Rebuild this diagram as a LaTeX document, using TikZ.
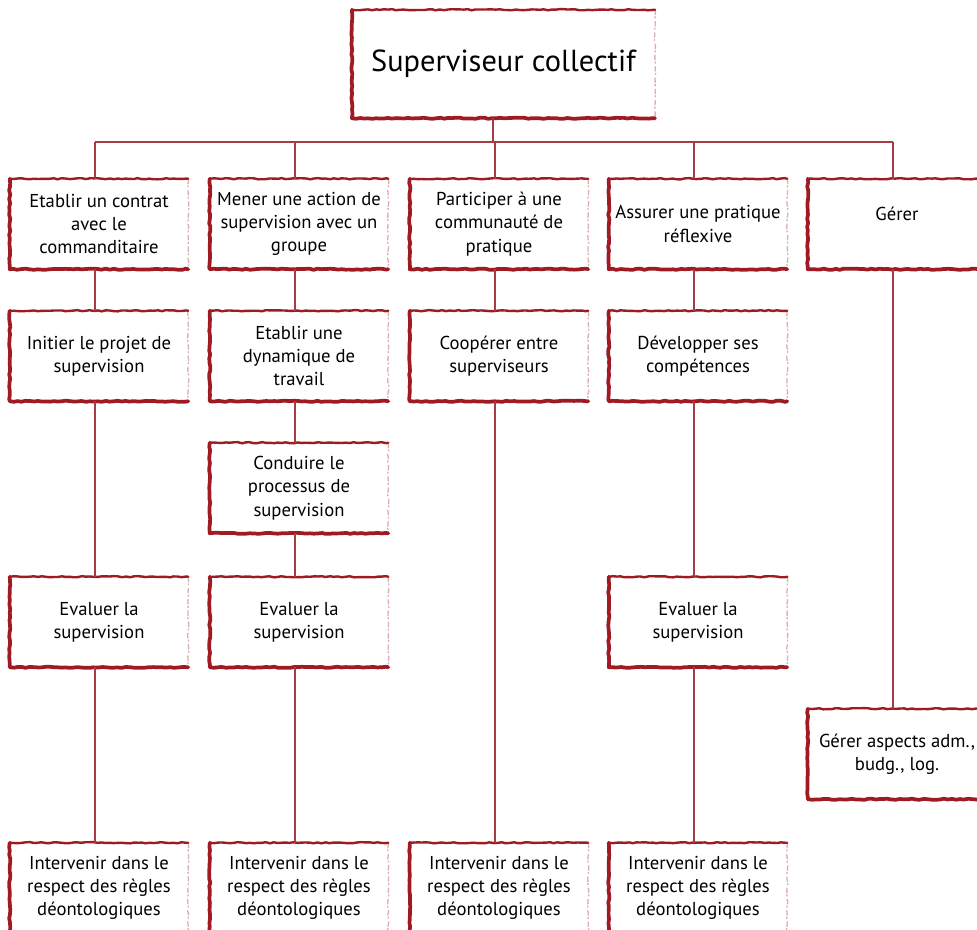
\documentclass[tikz,border=0pt]{standalone}
\usepackage{fontspec}
\setmainfont{PT Sans}
\usetikzlibrary{decorations.pathmorphing}
\definecolor{cadre}{HTML}{9E1B24}
\definecolor{trait}{HTML}{A83A42}

\begin{document}
\begin{tikzpicture}[x=0.75pt, y=-0.75pt,
  tache/.style = {minimum width=133.5pt, minimum height=67.5pt, inner sep=0pt, align=center, font=\fontsize{14}{17.5}\selectfont},
  titrebox/.style = {minimum width=227pt, minimum height=81pt, inner sep=0pt, font=\fontsize{22.8}{28}\selectfont},
  rough/.style = {decorate, decoration={random steps, segment length=3pt, amplitude=0.45pt}},
  cadre fin/.style = {draw=cadre, rough, line width=1.8pt, line cap=round},
  cadre epais/.style = {draw=cadre, rough, line width=2.8pt, line cap=round, line join=round},
  cadre pale/.style = {draw=cadre!35, rough, line width=1pt, dash pattern=on 4pt off 1pt on 1.5pt off 2pt},
  lien/.style = {draw=trait, line width=0.8pt, transform canvas={xshift=-3pt}}]
  \useasboundingbox (0,0) rectangle (977,930);

  % sommet
  \node[titrebox] (titre) at (503.5,64) {Superviseur collectif};
  \coordinate (bus) at (497,142);

  % ligne 1
  \node[tache] (a1) at (99,224) {Etablir un contrat\\avec le\\commanditaire};
  \node[tache] (b1) at (299,224) {Mener une action de\\supervision avec un\\groupe};
  \node[tache] (c1) at (499,224) {Participer à une\\communauté de\\pratique};
  \node[tache] (d1) at (698,224) {Assurer une pratique\\réflexive};
  \node[tache, text depth=15pt] (e1) at (897,224) {Gérer};

  % ligne 2
  \node[tache] (a2) at (99,356) {Initier le projet de\\supervision};
  \node[tache] (b2) at (299,356) {Etablir une\\dynamique de\\travail};
  \node[tache] (c2) at (499,356) {Coopérer entre\\superviseurs};
  \node[tache] (d2) at (698,356) {Développer ses\\compétences};

  % ligne 3
  \node[tache] (b3) at (299,488) {Conduire le\\processus de\\supervision};

  % ligne 4
  \node[tache] (a4) at (99,622) {Evaluer la\\supervision};
  \node[tache] (b4) at (299,622) {Evaluer la\\supervision};
  \node[tache] (d4) at (698,622) {Evaluer la\\supervision};

  % ligne 5
  \node[tache] (e5) at (897,754) {Gérer aspects adm.,\\budg., log.};

  % ligne 6
  \node[tache] (a6) at (99,888) {Intervenir dans le\\respect des règles\\déontologiques};
  \node[tache] (b6) at (299,888) {Intervenir dans le\\respect des règles\\déontologiques};
  \node[tache] (c6) at (499,888) {Intervenir dans le\\respect des règles\\déontologiques};
  \node[tache] (d6) at (698,888) {Intervenir dans le\\respect des règles\\déontologiques};

  % cadres
  \foreach \n in {titre,a1,b1,c1,d1,e1,a2,b2,c2,d2,b3,a4,b4,d4,e5,a6,b6,c6,d6} {
    \draw[cadre pale] (\n.north east) -- (\n.south east);
    \draw[cadre fin] (\n.north west) -- (\n.north east);
    \draw[cadre epais] (\n.north west) -- (\n.south west) -- (\n.south east);
  }

  % liens
  \draw[lien] (titre.south -| bus) -- (bus);
  \draw[lien, line width=1.5pt] (a1.north |- bus) -- (e1.north |- bus);
  \foreach \n in {a1,b1,c1,d1,e1}
    \draw[lien] (\n.north |- bus) -- (\n);
  \draw[lien] (a1) -- (a2);
  \draw[lien] (a2) -- (a4);
  \draw[lien] (a4) -- (a6);
  \draw[lien] (b1) -- (b2);
  \draw[lien] (b2) -- (b3);
  \draw[lien] (b3) -- (b4);
  \draw[lien] (b4) -- (b6);
  \draw[lien] (c1) -- (c2);
  \draw[lien] (c2) -- (c6);
  \draw[lien] (d1) -- (d2);
  \draw[lien] (d2) -- (d4);
  \draw[lien] (d4) -- (d6);
  \draw[lien] (e1) -- (e5);
\end{tikzpicture}
\end{document}
